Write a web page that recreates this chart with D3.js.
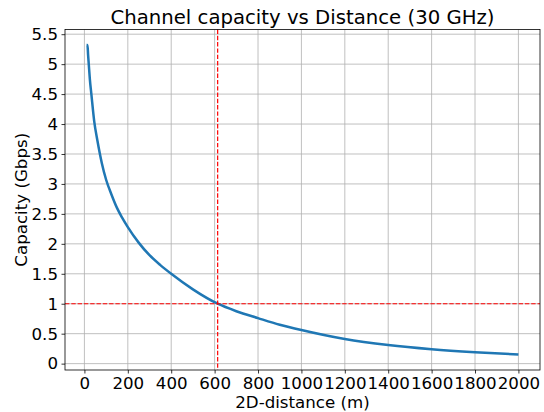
<!DOCTYPE html>
<html>
<head>
<meta charset="utf-8">
<script src="https://cdn.jsdelivr.net/npm/d3@7"></script>
<style>
  body { margin: 0; background: #fff; }
  svg { font-family: "DejaVu Sans", sans-serif; }
</style>
</head>
<body>
<div id="chart"></div>
<script>
// distance (m) and capacity (Gbps)
const distance = [10, 14, 17, 20, 25, 32, 45, 60, 80, 100, 125, 150, 175, 200, 250, 300, 350, 400, 500, 614, 700, 800, 900, 1000, 1200, 1400, 1600, 1800, 2000];
const capacity = [5.32, 5.32, 5.15, 5.0, 4.75, 4.5, 4.05, 3.72, 3.35, 3.07, 2.82, 2.6, 2.43, 2.28, 2.02, 1.81, 1.645, 1.50, 1.24, 1.0, 0.875, 0.76, 0.65, 0.56, 0.41, 0.31, 0.24, 0.19, 0.152];

const xTicks = d3.range(0, 2001, 200);
const yTicks = [0, 0.5, 1, 1.5, 2, 2.5, 3, 3.5, 4, 4.5, 5, 5.5];
const refCapacity = 1;
const refDistance = 614;

const W = 544, H = 412;
const margin = {top: 29.5, right: 4, bottom: 42, left: 65};
const width = W - margin.left - margin.right,
      height = H - margin.top - margin.bottom;

const svg = d3.select("#chart").append("svg")
  .attr("width", W).attr("height", H);

// matplotlib style 5% padding on data range
const xMin = d3.min(distance), xMax = d3.max(distance);
const yMin = d3.min(capacity), yMax = d3.max(capacity);
const xPad = (xMax - xMin) * 0.05, yPad = (yMax - yMin) * 0.05;

const x = d3.scaleLinear().domain([xMin - xPad, xMax + xPad]).range([0, width]);
const y = d3.scaleLinear().domain([yMin - yPad, yMax + yPad]).range([height, 0]);

const g = svg.append("g")
  .attr("transform", "translate(" + margin.left + "," + margin.top + ")");

// grid
g.append("g")
  .selectAll("line").data(xTicks).enter().append("line")
  .attr("x1", d => x(d)).attr("x2", d => x(d))
  .attr("y1", 0).attr("y2", height)
  .attr("stroke", "#b0b0b0").attr("stroke-width", 0.8);
g.append("g")
  .selectAll("line").data(yTicks).enter().append("line")
  .attr("y1", d => y(d)).attr("y2", d => y(d))
  .attr("x1", 0).attr("x2", width)
  .attr("stroke", "#b0b0b0").attr("stroke-width", 0.8);

// axes
const fmt = d => d3.format("")(d);
const xAxis = g.append("g")
  .attr("transform", "translate(0," + height + ")")
  .call(d3.axisBottom(x).tickValues(xTicks).tickSize(3.5).tickPadding(3.5).tickFormat(fmt));
const yAxis = g.append("g")
  .call(d3.axisLeft(y).tickValues(yTicks).tickSize(3.5).tickPadding(3.5).tickFormat(fmt));

[xAxis, yAxis].forEach(a => {
  a.select(".domain").remove();
  a.selectAll("line").attr("stroke", "#000").attr("stroke-width", 0.8);
  a.selectAll("text").attr("font-size", "16.67px").attr("fill", "#000")
    .attr("font-family", "DejaVu Sans, sans-serif");
});

// capacity curve
const line = d3.line()
  .curve(d3.curveMonotoneX)
  .x((d, i) => x(distance[i]))
  .y(d => y(d));

g.append("path")
  .datum(capacity)
  .attr("fill", "none")
  .attr("stroke", "#1f77b4")
  .attr("stroke-width", 2.5)
  .attr("stroke-linejoin", "round")
  .attr("d", line);

// reference lines
g.append("line")
  .attr("x1", 0).attr("x2", width)
  .attr("y1", y(refCapacity)).attr("y2", y(refCapacity))
  .attr("stroke", "#ff0000").attr("stroke-width", 1.2)
  .attr("stroke-dasharray", "4.4,1.9");
g.append("line")
  .attr("x1", x(refDistance)).attr("x2", x(refDistance))
  .attr("y1", 0).attr("y2", height)
  .attr("stroke", "#ff0000").attr("stroke-width", 1.2)
  .attr("stroke-dasharray", "4.4,1.9");

// frame
g.append("rect")
  .attr("width", width).attr("height", height)
  .attr("fill", "none").attr("stroke", "#000").attr("stroke-width", 0.8);

// labels
svg.append("text")
  .attr("x", margin.left + width / 2).attr("y", 24)
  .attr("text-anchor", "middle")
  .attr("font-size", "19.7px")
  .text("Channel capacity vs Distance (30 GHz)");

svg.append("text")
  .attr("x", margin.left + width / 2).attr("y", 408)
  .attr("text-anchor", "middle")
  .attr("font-size", "16.67px")
  .text("2D-distance (m)");

svg.append("text")
  .attr("transform", "translate(27," + (margin.top + height / 2) + ") rotate(-90)")
  .attr("text-anchor", "middle")
  .attr("font-size", "16.67px")
  .text("Capacity (Gbps)");
</script>
</body>
</html>
